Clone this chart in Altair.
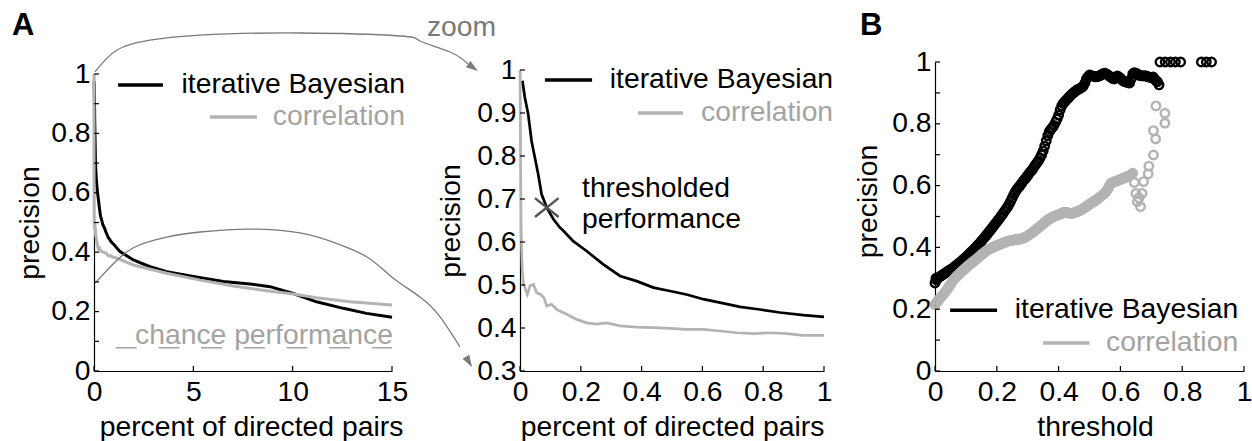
import altair as alt
import pandas as pd

FONT = "Liberation Sans"
FS = 28.3
BLACK = "#000000"
LIGHT = "#b3b3b3"
LABEL_GRAY = "#a3a3a3"
ARC_GRAY = "#7a7a7a"

H = 309          # shared frame height of every panel
W_LEFT = 298
MID_PAD = 17     # inset of the zoom panel's axes inside its frame
W_MID = 304 + MID_PAD
W_B = 309
GAP = 111

# ---- A: precision against percent of directed pairs ----
bayes_pct = [0.008, 0.016, 0.027, 0.038, 0.049, 0.060, 0.071, 0.088, 0.110, 0.132,
             0.140, 0.148, 0.175, 0.219, 0.274, 0.329, 0.384, 0.439, 0.493, 0.548,
             0.603, 0.658, 0.724, 0.789, 0.855, 0.932, 1.0, 1.31, 1.98, 2.82,
             3.66, 5.0, 6.51, 7.85, 8.86, 10.03, 11.2, 12.55, 13.72, 15.0]
bayes_prec = [0.975, 0.936, 0.897, 0.835, 0.796, 0.757, 0.711, 0.680, 0.653, 0.633,
              0.628, 0.622, 0.602, 0.579, 0.548, 0.521, 0.509, 0.494, 0.486, 0.478,
              0.467, 0.459, 0.449, 0.443, 0.436, 0.430, 0.426, 0.402, 0.374, 0.351,
              0.334, 0.318, 0.301, 0.293, 0.284, 0.261, 0.233, 0.211, 0.194, 0.181]

corr_pct = [0.0, 0.002, 0.004, 0.007, 0.011, 0.020, 0.024, 0.033, 0.044, 0.055,
            0.068, 0.079, 0.088, 0.104, 0.121, 0.154, 0.186, 0.219, 0.252, 0.285,
            0.329, 0.384, 0.439, 0.493, 0.548, 0.603, 0.658, 0.713, 0.768, 0.822,
            0.877, 0.932, 1.0, 1.14, 1.98, 3.66, 5.34, 7.01, 8.69, 10.03,
            11.2, 12.88, 15.0]
corr_prec = [1.0, 0.773, 0.618, 0.540, 0.505, 0.486, 0.478, 0.498, 0.501, 0.482,
             0.478, 0.470, 0.451, 0.455, 0.443, 0.432, 0.420, 0.412, 0.409, 0.412,
             0.405, 0.402, 0.401, 0.399, 0.397, 0.397, 0.393, 0.389, 0.387, 0.389,
             0.387, 0.383, 0.383, 0.380, 0.357, 0.329, 0.306, 0.286, 0.270, 0.259,
             0.247, 0.233, 0.222]

chance_level = 0.078
thresholded_point = (0.088, 0.680)

# ---- B: precision against threshold ----
bayes_thr = [0.000, 0.003, 0.005, 0.010, 0.015, 0.020, 0.025, 0.030, 0.035, 0.040,
             0.045, 0.050, 0.055, 0.060, 0.065, 0.070, 0.075, 0.080, 0.085, 0.090,
             0.095, 0.100, 0.105, 0.110, 0.115, 0.120, 0.125, 0.130, 0.135, 0.140,
             0.145, 0.150, 0.155, 0.160, 0.165, 0.170, 0.175, 0.180, 0.185, 0.190,
             0.195, 0.200, 0.205, 0.210, 0.215, 0.220, 0.225, 0.230, 0.235, 0.240,
             0.245, 0.250, 0.255, 0.260, 0.265, 0.270, 0.275, 0.280, 0.285, 0.290,
             0.295, 0.300, 0.305, 0.310, 0.315, 0.320, 0.325, 0.330, 0.335, 0.340,
             0.345, 0.350, 0.355, 0.360, 0.365, 0.370, 0.375, 0.380, 0.385, 0.390,
             0.395, 0.400, 0.405, 0.410, 0.415, 0.420, 0.425, 0.430, 0.435, 0.440,
             0.445, 0.450, 0.455, 0.460, 0.465, 0.470, 0.475, 0.480, 0.485, 0.490,
             0.495, 0.500, 0.505, 0.510, 0.515, 0.520, 0.525, 0.530, 0.535, 0.540,
             0.545, 0.550, 0.555, 0.560, 0.565, 0.570, 0.575, 0.580, 0.585, 0.590,
             0.595, 0.600, 0.605, 0.610, 0.615, 0.620, 0.625, 0.630, 0.635, 0.640,
             0.645, 0.650, 0.655, 0.660, 0.665, 0.670, 0.675, 0.680, 0.685, 0.690,
             0.695, 0.700, 0.706, 0.710, 0.715, 0.720, 0.725,
             0.728, 0.745, 0.762, 0.778, 0.795, 0.862, 0.878, 0.895]
bayes_thr_prec = [0.285, 0.300, 0.295, 0.301, 0.305, 0.308, 0.312, 0.315, 0.318, 0.322,
                  0.325, 0.328, 0.331, 0.335, 0.339, 0.343, 0.347, 0.351, 0.355, 0.360,
                  0.364, 0.369, 0.373, 0.378, 0.383, 0.388, 0.393, 0.398, 0.403, 0.409,
                  0.414, 0.420, 0.426, 0.432, 0.438, 0.444, 0.451, 0.457, 0.463, 0.470,
                  0.476, 0.483, 0.489, 0.496, 0.503, 0.510, 0.517, 0.524, 0.531, 0.540,
                  0.550, 0.560, 0.571, 0.580, 0.588, 0.594, 0.600, 0.607, 0.614, 0.620,
                  0.626, 0.633, 0.640, 0.646, 0.652, 0.660, 0.667, 0.674, 0.681, 0.690,
                  0.700, 0.712, 0.728, 0.745, 0.762, 0.775, 0.782, 0.788, 0.795, 0.805,
                  0.815, 0.828, 0.845, 0.858, 0.866, 0.872, 0.877, 0.882, 0.888, 0.893,
                  0.898, 0.902, 0.906, 0.910, 0.912, 0.915, 0.918, 0.922, 0.932, 0.945,
                  0.952, 0.958, 0.956, 0.955, 0.953, 0.952, 0.953, 0.954, 0.957, 0.960,
                  0.963, 0.964, 0.961, 0.958, 0.954, 0.950, 0.947, 0.945, 0.950, 0.955,
                  0.952, 0.948, 0.942, 0.938, 0.936, 0.935, 0.933, 0.932, 0.945, 0.962,
                  0.965, 0.964, 0.961, 0.958, 0.956, 0.955, 0.955, 0.956, 0.954, 0.952,
                  0.951, 0.950, 0.952, 0.945, 0.940, 0.936, 0.926,
                  1.0, 1.0, 1.0, 1.0, 1.0, 1.0, 1.0, 1.0]

corr_thr = [0.000, 0.005, 0.010, 0.015, 0.020, 0.025, 0.030, 0.035, 0.040, 0.045,
            0.050, 0.055, 0.060, 0.065, 0.070, 0.075, 0.080, 0.085, 0.090, 0.095,
            0.100, 0.105, 0.110, 0.115, 0.120, 0.125, 0.130, 0.135, 0.140, 0.145,
            0.150, 0.155, 0.160, 0.165, 0.170, 0.175, 0.180, 0.185, 0.190, 0.195,
            0.200, 0.205, 0.210, 0.215, 0.220, 0.225, 0.230, 0.235, 0.240, 0.245,
            0.250, 0.255, 0.260, 0.265, 0.270, 0.275, 0.280, 0.285, 0.290, 0.295,
            0.300, 0.305, 0.310, 0.315, 0.320, 0.325, 0.330, 0.335, 0.340, 0.345,
            0.350, 0.355, 0.360, 0.365, 0.370, 0.375, 0.380, 0.385, 0.390, 0.395,
            0.400, 0.405, 0.410, 0.415, 0.420, 0.425, 0.430, 0.435, 0.440, 0.445,
            0.450, 0.455, 0.460, 0.465, 0.470, 0.475, 0.480, 0.485, 0.490, 0.495,
            0.500, 0.505, 0.510, 0.515, 0.520, 0.525, 0.530, 0.535, 0.540, 0.545,
            0.550, 0.555, 0.560, 0.565, 0.570, 0.575, 0.580, 0.585, 0.590, 0.595,
            0.600, 0.605, 0.610, 0.615, 0.620, 0.625, 0.630, 0.635, 0.640,
            0.645, 0.650, 0.655, 0.660, 0.665, 0.670, 0.675, 0.690, 0.692, 0.707,
            0.714, 0.707, 0.715, 0.744, 0.744]
corr_thr_prec = [0.215, 0.221, 0.228, 0.234, 0.240, 0.246, 0.252, 0.258, 0.265, 0.272,
                 0.280, 0.288, 0.295, 0.301, 0.306, 0.311, 0.316, 0.321, 0.325, 0.330,
                 0.334, 0.339, 0.343, 0.347, 0.351, 0.355, 0.359, 0.363, 0.367, 0.372,
                 0.376, 0.380, 0.384, 0.388, 0.391, 0.394, 0.397, 0.400, 0.402, 0.404,
                 0.406, 0.408, 0.410, 0.412, 0.414, 0.416, 0.418, 0.420, 0.421, 0.422,
                 0.423, 0.424, 0.425, 0.426, 0.426, 0.427, 0.428, 0.430, 0.432, 0.435,
                 0.438, 0.441, 0.445, 0.448, 0.452, 0.456, 0.460, 0.464, 0.468, 0.472,
                 0.476, 0.481, 0.485, 0.489, 0.492, 0.495, 0.498, 0.500, 0.502, 0.504,
                 0.506, 0.508, 0.510, 0.513, 0.514, 0.513, 0.512, 0.511, 0.510, 0.511,
                 0.512, 0.514, 0.516, 0.518, 0.520, 0.523, 0.526, 0.529, 0.533, 0.536,
                 0.540, 0.543, 0.546, 0.549, 0.552, 0.556, 0.560, 0.564, 0.568, 0.572,
                 0.576, 0.583, 0.590, 0.600, 0.608, 0.610, 0.612, 0.614, 0.616, 0.618,
                 0.620, 0.622, 0.624, 0.626, 0.628, 0.630, 0.632, 0.636, 0.640,
                 0.610, 0.575, 0.548, 0.560, 0.532, 0.575, 0.613, 0.638, 0.663, 0.699,
                 0.751, 0.778, 0.858, 0.834, 0.802]

# connector arcs between the two A panels, in the left panel's data units
arc_top_x = [0.05, 1.16, 2.82, 5.34, 10.37, 15.40, 16.41, 17.92, 18.83]
arc_top_y = [1.007, 1.081, 1.114, 1.131, 1.138, 1.128, 1.111, 1.074, 1.034]
arc_low_x = [0.05, 0.81, 1.96, 3.67, 5.34, 7.85, 10.37, 12.03, 13.74, 15.0, 16.41, 17.42, 18.42]
arc_low_y = [0.296, 0.350, 0.414, 0.451, 0.468, 0.478, 0.465, 0.434, 0.384, 0.316, 0.249, 0.182, 0.081]
arrow_tips = [(19.33, 1.010, 125), (19.03, 0.013, 149)]

one = pd.DataFrame({"k": [0]})


def axis(values, title, **kw):
    opts = dict(values=values, format="~g", title=title, ticks=False, grid=False,
                domainColor=BLACK, domainWidth=1.2, labelFont=FONT, labelFontSize=FS,
                labelColor=BLACK, labelPadding=7, labelFlush=False, labelOverlap=False,
                titleFont=FONT, titleFontSize=FS, titleFontWeight="normal",
                titleColor=BLACK)
    opts.update(kw)
    return alt.Axis(**opts)


# secondary layers leave the axis unspecified so the explicit one of the main layer is kept
def inward_ticks(xvals, yvals, xs, ys, x0):
    xt = alt.Chart(pd.DataFrame({"v": xvals})).mark_rule(color=BLACK, strokeWidth=1.2).encode(
        x=alt.X("v:Q", scale=xs), y=alt.value(H), y2=alt.value(H - 5))
    yt = alt.Chart(pd.DataFrame({"v": yvals})).mark_rule(color=BLACK, strokeWidth=1.2).encode(
        y=alt.Y("v:Q", scale=ys), x=alt.value(x0), x2=alt.value(x0 + 5))
    return [xt, yt]


def texts(rows, xs, ys, color, align, baseline="middle", size=FS):
    df = pd.DataFrame(rows, columns=["x", "y", "label"])
    return alt.Chart(df).mark_text(font=FONT, fontSize=size, color=color, align=align,
                                   baseline=baseline).encode(
        x=alt.X("x:Q", scale=xs), y=alt.Y("y:Q", scale=ys), text="label:N")


def sample(x0, x1, y, color, xs, ys):
    df = pd.DataFrame({"x": [x0], "x2": [x1], "y": [y]})
    return alt.Chart(df).mark_rule(color=color, strokeWidth=3.5).encode(
        x=alt.X("x:Q", scale=xs), x2="x2:Q", y=alt.Y("y:Q", scale=ys))


bayes_df = pd.DataFrame({"pct": bayes_pct, "prec": bayes_prec})
corr_df = pd.DataFrame({"pct": corr_pct, "prec": corr_prec})

# ---------- left panel: full range ----------
xL = alt.Scale(domain=[0, 15], nice=False)
yL = alt.Scale(domain=[0, 1], nice=False, range=[H, 12])

frame = alt.Chart(one).mark_rect(fill="rgba(0,0,0,0)").encode(
    x=alt.value(-94), x2=alt.value(1252 - 94), y=alt.value(-62), y2=alt.value(441 - 62))

left_black = alt.Chart(bayes_df).mark_line(color=BLACK, strokeWidth=3).encode(
    x=alt.X("pct:Q", scale=xL,
            axis=axis([0, 5, 10, 15], "percent of directed pairs", titleX=157, titlePadding=8)),
    y=alt.Y("prec:Q", scale=yL,
            axis=axis([0, 0.2, 0.4, 0.6, 0.8, 1], "precision", labelPadding=4, titlePadding=6)))
left_gray = alt.Chart(corr_df).mark_line(color=LIGHT, strokeWidth=3).encode(
    x=alt.X("pct:Q", scale=xL), y=alt.Y("prec:Q", scale=yL))

chance = alt.Chart(pd.DataFrame({"x": [0], "x2": [15], "y": [chance_level]})).mark_rule(
    color=LABEL_GRAY, strokeWidth=1.5, strokeDash=[21, 21.7], strokeDashOffset=21).encode(
    x=alt.X("x:Q", scale=xL), x2="x2:Q", y=alt.Y("y:Q", scale=yL))

arcs_df = pd.DataFrame({
    "x": arc_top_x + arc_low_x,
    "y": arc_top_y + arc_low_y,
    "arc": ["top"] * len(arc_top_x) + ["low"] * len(arc_low_x),
    "i": list(range(len(arc_top_x))) + list(range(len(arc_low_x))),
})
arcs = alt.Chart(arcs_df).mark_line(color=ARC_GRAY, strokeWidth=1.3, interpolate="natural").encode(
    x=alt.X("x:Q", scale=xL), y=alt.Y("y:Q", scale=yL), detail="arc:N", order="i:Q")
heads = alt.Chart(pd.DataFrame(arrow_tips, columns=["x", "y", "ang"])).mark_point(
    shape="M0,0L-0.65,2L0.65,2Z", filled=True, size=144, color=ARC_GRAY, opacity=1).encode(
    x=alt.X("x:Q", scale=xL), y=alt.Y("y:Q", scale=yL), angle=alt.Angle("ang:Q", scale=None))

left_layers = [
    left_black, frame, chance, left_gray, arcs, heads,
    sample(1.21, 3.47, 0.963, BLACK, xL, yL),
    sample(5.84, 8.20, 0.855, LIGHT, xL, yL),
    texts([(15.65, 0.963, "iterative Bayesian")], xL, yL, BLACK, "right"),
    texts([(15.65, 0.855, "correlation")], xL, yL, LABEL_GRAY, "right"),
    texts([(15.05, 0.090, "chance performance")], xL, yL, LABEL_GRAY, "right", "alphabetic"),
    texts([(16.76, 1.128, "zoom")], xL, yL, ARC_GRAY, "left", "alphabetic"),
    alt.Chart(one).mark_text(text="A", font=FONT, fontSize=31, fontWeight="bold",
                             align="left", baseline="alphabetic").encode(
        x=alt.value(-82), y=alt.value(-27)),
] + inward_ticks([0, 5, 10, 15], [0, 0.1, 0.2, 0.3, 0.4, 0.5, 0.6, 0.7, 0.8, 0.9, 1],
                 xL, yL, 0)
left = alt.layer(*left_layers).properties(width=W_LEFT, height=H)

# ---------- middle panel: first percent ----------
xM = alt.Scale(domain=[0, 1], nice=False, range=[MID_PAD, W_MID])
yM = alt.Scale(domain=[0.3, 1], nice=False, range=[H, 8])

mid_black = alt.Chart(bayes_df).transform_filter("datum.pct <= 1").mark_line(
    color=BLACK, strokeWidth=2.7).encode(
    x=alt.X("pct:Q", scale=xM,
            axis=axis([0, 0.2, 0.4, 0.6, 0.8, 1], "percent of directed pairs", titlePadding=8)),
    y=alt.Y("prec:Q", scale=yM,
            axis=axis([0.3, 0.4, 0.5, 0.6, 0.7, 0.8, 0.9, 1], "precision", labelPadding=4,
                      titlePadding=11, offset=-MID_PAD)))
mid_gray = alt.Chart(corr_df).transform_filter("datum.pct <= 1").mark_line(
    color=LIGHT, strokeWidth=2.7).encode(
    x=alt.X("pct:Q", scale=xM), y=alt.Y("prec:Q", scale=yM))

marker = alt.Chart(pd.DataFrame({"x": [thresholded_point[0]], "y": [thresholded_point[1]]})).mark_point(
    shape="M-1,-0.8L1,0.8M-1,0.8L1,-0.8", size=560, strokeWidth=2.5, color="#555555",
    filled=False, opacity=1).encode(
    x=alt.X("x:Q", scale=xM), y=alt.Y("y:Q", scale=yM))

mid_layers = [
    mid_black, mid_gray, marker,
    sample(0.082, 0.237, 0.977, BLACK, xM, yM),
    sample(0.388, 0.536, 0.900, LIGHT, xM, yM),
    texts([(1.03, 0.977, "iterative Bayesian")], xM, yM, BLACK, "right"),
    texts([(1.03, 0.900, "correlation")], xM, yM, LABEL_GRAY, "right"),
    texts([(0.204, 0.724, "thresholded"), (0.204, 0.651, "performance")], xM, yM, BLACK, "left"),
] + inward_ticks([0, 0.2, 0.4, 0.6, 0.8, 1], [0.3, 0.4, 0.5, 0.6, 0.7, 0.8, 0.9, 1],
                 xM, yM, MID_PAD)
mid = alt.layer(*mid_layers).properties(width=W_MID, height=H)

# ---------- B: precision against threshold ----------
xB = alt.Scale(domain=[0, 1], nice=False)
yB = alt.Scale(domain=[0, 1], nice=False)

b_black = alt.Chart(pd.DataFrame({"thr": bayes_thr, "prec": bayes_thr_prec})).mark_point(
    shape="circle", filled=False, size=72, strokeWidth=2.4, color=BLACK, opacity=1).encode(
    x=alt.X("thr:Q", scale=xB,
            axis=axis([0, 0.2, 0.4, 0.6, 0.8, 1], "threshold", titleX=160, titlePadding=8)),
    y=alt.Y("prec:Q", scale=yB,
            axis=axis([0, 0.2, 0.4, 0.6, 0.8, 1], "precision", labelPadding=4,
                      titlePadding=9, titleY=139)))
b_gray = alt.Chart(pd.DataFrame({"thr": corr_thr, "prec": corr_thr_prec})).mark_point(
    shape="circle", filled=False, size=72, strokeWidth=2.4, color=LIGHT, opacity=1).encode(
    x=alt.X("thr:Q", scale=xB), y=alt.Y("prec:Q", scale=yB))

b_layers = [
    b_black, b_gray,
    sample(0.049, 0.201, 0.197, BLACK, xB, yB),
    sample(0.350, 0.500, 0.091, LIGHT, xB, yB),
    texts([(0.981, 0.197, "iterative Bayesian")], xB, yB, BLACK, "right"),
    texts([(0.981, 0.091, "correlation")], xB, yB, LABEL_GRAY, "right"),
    alt.Chart(one).mark_text(text="B", font=FONT, fontSize=31, fontWeight="bold",
                             align="left", baseline="alphabetic").encode(
        x=alt.value(-75), y=alt.value(-27)),
] + inward_ticks([0, 0.2, 0.4, 0.6, 0.8, 1], [0, 0.1, 0.2, 0.3, 0.4, 0.5, 0.6, 0.7, 0.8, 0.9, 1],
                 xB, yB, 0)
bpanel = alt.layer(*b_layers).properties(width=W_B, height=H)

chart = alt.hconcat(left, mid, bpanel, spacing=GAP, bounds="flush").properties(
    padding=0).configure_view(stroke=None)

chart.save("out.html", embed_options={"renderer": "svg", "actions": False})
